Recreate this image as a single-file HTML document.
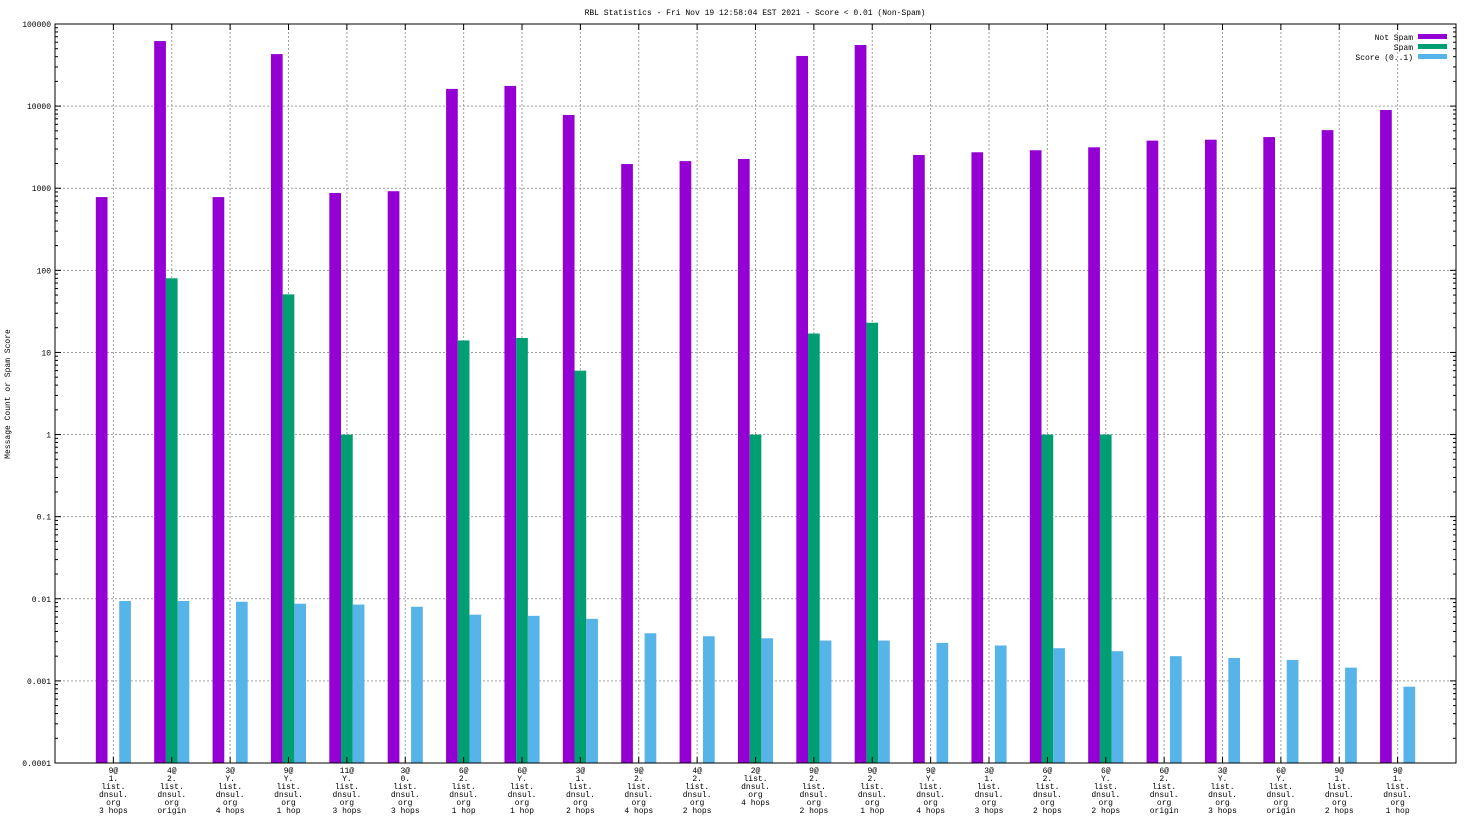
<!DOCTYPE html>
<html><head><meta charset="utf-8"><style>
body{margin:0;background:#fff}
svg{display:block;font-family:"Liberation Mono","DejaVu Sans Mono",monospace;font-size:8px}
</style></head><body>
<svg id="c" width="1472" height="828">
<text x="755" y="15" text-anchor="middle">RBL Statistics - Fri Nov 19 12:58:04 EST 2021 - Score &lt; 0.01 (Non-Spam)</text>
<text transform="translate(10,394) rotate(-90)" text-anchor="middle">Message Count or Spam Score</text>
<g id="grid"></g><g id="bars"></g><g id="axes"></g>
<g>
<text x="1413" y="40" text-anchor="end">Not Spam</text>
<rect x="1418" y="34" width="29" height="5" fill="#9400d3"/>
<text x="1413" y="50" text-anchor="end">Spam</text>
<rect x="1418" y="44" width="29" height="5" fill="#009e73"/>
<text x="1413" y="60" text-anchor="end">Score (0..1)</text>
<rect x="1418" y="54" width="29" height="5" fill="#56b4e9"/>
</g>
</svg>
<script>
const categories=[["9@","1.","3 hops"],["4@","2.","origin"],["3@","Y.","4 hops"],["9@","Y.","1 hop"],["11@","Y.","3 hops"],["3@","0.","3 hops"],["6@","2.","1 hop"],["6@","Y.","1 hop"],["3@","1.","2 hops"],["9@","2.","4 hops"],["4@","2.","2 hops"],["2@","list.","4 hops"],["9@","2.","2 hops"],["9@","2.","1 hop"],["9@","Y.","4 hops"],["3@","1.","3 hops"],["6@","2.","2 hops"],["6@","Y.","2 hops"],["6@","2.","origin"],["3@","Y.","3 hops"],["6@","Y.","origin"],["9@","1.","2 hops"],["9@","1.","1 hop"]];
const notSpam=[780,62000,780,43000,875,920,16200,17600,7800,1970,2140,2270,40800,55500,2540,2740,2900,3150,3800,3900,4200,5100,8970];
const spam=[0,80,0,51,1,0,14,15,6,0,0,1,17,23,0,0,1,1,0,0,0,0,0];
const score=[0.0094,0.0094,0.0092,0.0087,0.0085,0.0080,0.0064,0.0062,0.0057,0.0038,0.0035,0.0033,0.0031,0.0031,0.0029,0.0027,0.0025,0.0023,0.0020,0.0019,0.0018,0.00145,0.00085];
const yTicks=["0.0001","0.001","0.01","0.1","1","10","100","1000","10000","100000"];
const NS="http://www.w3.org/2000/svg";
const L=55,R=1456,T=24,B=763;
const gw=(R-L)/(categories.length+1);
function xc(i){return L+gw*(i+1);}
function y(v){return B-(Math.log10(v)+4)/9*(B-T);}
function mk(tag,a,p){const e=document.createElementNS(NS,tag);for(const k in a)e.setAttribute(k,a[k]);p.appendChild(e);return e;}
const grid=document.getElementById('grid'),bars=document.getElementById('bars'),axes=document.getElementById('axes');
yTicks.forEach((t,k)=>{const yy=y(parseFloat(t));
 if(k>0&&k<yTicks.length-1)mk('line',{x1:L,x2:R,y1:yy,y2:yy,stroke:'#a0a0a0','stroke-dasharray':'2,2'},grid);
 mk('line',{x1:L,x2:L+6,y1:yy,y2:yy,stroke:'#000'},axes);mk('line',{x1:R,x2:R-6,y1:yy,y2:yy,stroke:'#000'},axes);
 for(let m=2;m<10&&k<yTicks.length-1;m++){const ym=y(parseFloat(t)*m);mk('line',{x1:L,x2:L+3,y1:ym,y2:ym,stroke:'#000'},axes);mk('line',{x1:R,x2:R-3,y1:ym,y2:ym,stroke:'#000'},axes);}
 const tx=mk('text',{x:L-4,y:yy+3,'text-anchor':'end'},axes);tx.textContent=t;
 
 
});
const bw=11.7,cols=['#9400d3','#009e73','#56b4e9'];
categories.forEach((c,i)=>{const x=xc(i);
 mk('line',{x1:x,x2:x,y1:T,y2:B,stroke:'#a0a0a0','stroke-dasharray':'2,2'},grid);
 mk('line',{x1:x,x2:x,y1:B,y2:B-6,stroke:'#000'},axes);mk('line',{x1:x,x2:x,y1:T,y2:T+6,stroke:'#000'},axes);
 [notSpam[i],spam[i],score[i]].forEach((v,s)=>{if(!(v>0))return;const yy=y(v);
  const r=mk('rect',{x:x-bw*1.5+s*bw,y:yy,width:bw,height:B-yy,fill:cols[s]},bars);
  
  });
 const lines=[c[0],c[1],"list.","dnsul.","org",c[2]];
 if(c[1]==="list.")lines.splice(1,1,"list.","dnsul.","org").splice;
 const ls=c[1]==="list."?[c[0],"list.","dnsul.","org",c[2]]:lines;
 const tx=mk('text',{'text-anchor':'middle'},axes);
 
 
 ls.forEach((l,k)=>{const sp=mk('tspan',{x:x,y:773+k*8},tx);sp.textContent=l;});
});
mk('rect',{x:L,y:T,width:R-L,height:B-T,fill:'none',stroke:'#000'},axes);
</script>
</body></html>
